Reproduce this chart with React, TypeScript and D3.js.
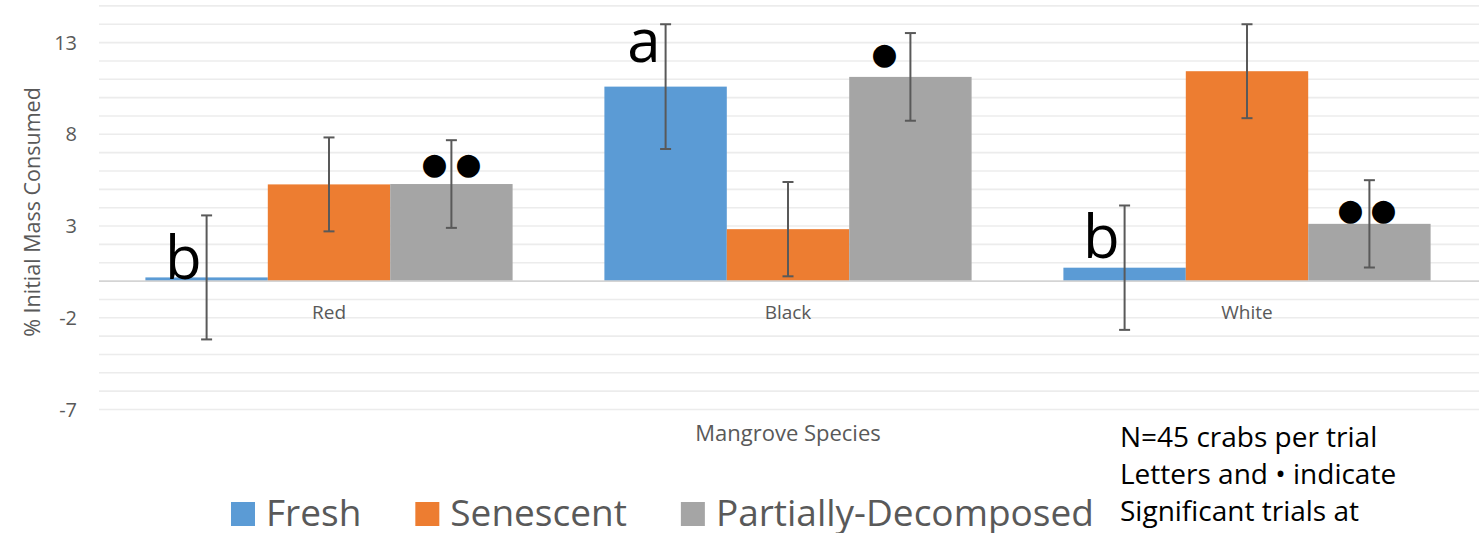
import React, { useEffect, useRef } from "react";
import * as d3 from "d3";

const categories = ["Red", "Black", "White"];
const seriesNames = ["Fresh", "Senescent", "Partially-Decomposed"];
const freshValues = [0.2, 10.6, 0.73];
const senescentValues = [5.27, 2.83, 11.44];
const partialValues = [5.29, 11.13, 3.12];
const freshErrors = [3.38, 3.4, 3.39];
const senescentErrors = [2.56, 2.57, 2.56];
const partialErrors = [2.39, 2.39, 2.38];
const yTicks = [-7, -2, 3, 8, 13];
const noteLines = ["N=45 crabs per trial", "Letters and \u2022 indicate", "Significant trials at"];
// annotation: category, series index, label
const annotations = [
  { cat: "Red", s: 0, label: "b", kind: "letter" },
  { cat: "Black", s: 0, label: "a", kind: "letter" },
  { cat: "White", s: 0, label: "b", kind: "letter" },
  { cat: "Red", s: 2, label: "\u25CF\u25CF", kind: "dots" },
  { cat: "Black", s: 2, label: "\u25CF", kind: "dots" },
  { cat: "White", s: 2, label: "\u25CF\u25CF", kind: "dots" },
];

const colors = ["#5B9BD5", "#ED7D31", "#A5A5A5"];
const W = 1479;
const H = 533;
const FONT = "'Open Sans', 'Noto Sans', sans-serif";

export default function App() {
  const ref = useRef<SVGSVGElement>(null);

  useEffect(() => {
    const svg = d3.select(ref.current);
    svg.selectAll("*").remove();

    const values = [freshValues, senescentValues, partialValues];
    const errors = [freshErrors, senescentErrors, partialErrors];

    const x0 = d3.scaleBand<string>().domain(categories).range([99.5, 1476.5]).paddingInner(0.2).paddingOuter(0.1);
    const x1 = d3.scaleBand<number>().domain([0, 1, 2]).range([0, x0.bandwidth()]);
    const y = d3.scaleLinear().domain([-7, 15]).range([409.5, 5.9]);

    // gridlines every unit
    const grid = d3.range(-7, 16, 1).filter((v) => v !== 0);
    svg.append("g").selectAll("line").data(grid).join("line")
      .attr("x1", 99).attr("x2", W).attr("y1", (d) => y(d)).attr("y2", (d) => y(d))
      .attr("stroke", "#ECECEC").attr("stroke-width", 1.6);

    // bars
    const barData: any[] = [];
    categories.forEach((c, ci) => {
      values.forEach((vals, si) => {
        barData.push({ c, si, v: vals[ci], e: errors[si][ci] });
      });
    });
    svg.append("g").selectAll("rect").data(barData).join("rect")
      .attr("x", (d) => (x0(d.c) as number) + (x1(d.si) as number))
      .attr("width", x1.bandwidth())
      .attr("y", (d) => y(Math.max(0, d.v)))
      .attr("height", (d) => Math.abs(y(d.v) - y(0)))
      .attr("fill", (d) => colors[d.si]);

    // zero axis line
    svg.append("line").attr("x1", 99).attr("x2", W).attr("y1", y(0)).attr("y2", y(0))
      .attr("stroke", "#D4D4D4").attr("stroke-width", 1.6);

    // error bars
    const eg = svg.append("g").attr("stroke", "#595959").attr("stroke-width", 2);
    barData.forEach((d) => {
      const cx = (x0(d.c) as number) + (x1(d.si) as number) + x1.bandwidth() / 2;
      const t = y(d.v + d.e);
      const b = y(d.v - d.e);
      eg.append("line").attr("x1", cx).attr("x2", cx).attr("y1", t).attr("y2", b);
      eg.append("line").attr("x1", cx - 5.5).attr("x2", cx + 5.5).attr("y1", t).attr("y2", t);
      eg.append("line").attr("x1", cx - 5.5).attr("x2", cx + 5.5).attr("y1", b).attr("y2", b);
    });

    // y tick labels
    svg.append("g").selectAll("text").data(yTicks).join("text")
      .attr("x", 77).attr("y", (d) => y(d)).attr("dy", "0.35em")
      .attr("text-anchor", "end").attr("font-family", FONT).attr("font-size", 20)
      .attr("fill", "#595959").text((d) => String(d));

    // y title
    svg.append("text")
      .attr("transform", `translate(40,${212}) rotate(-90)`)
      .attr("text-anchor", "middle").attr("font-family", FONT).attr("font-size", 21.5)
      .attr("fill", "#595959").text("% Initial Mass Consumed");

    // category labels
    svg.append("g").selectAll("text").data(categories).join("text")
      .attr("x", (d) => (x0(d) as number) + x0.bandwidth() / 2).attr("y", y(0) + 38)
      .attr("text-anchor", "middle").attr("font-family", FONT).attr("font-size", 19)
      .attr("fill", "#595959").text((d) => d);

    // x title
    svg.append("text").attr("x", (x0.range()[0] + x0.range()[1]) / 2).attr("y", 441)
      .attr("text-anchor", "middle").attr("font-family", FONT).attr("font-size", 22)
      .attr("fill", "#595959").text("Mangrove Species");

    // annotations
    const ag = svg.append("g");
    annotations.forEach((a) => {
      const ci = categories.indexOf(a.cat);
      const v = values[a.s][ci];
      const e = errors[a.s][ci];
      const cx = (x0(a.cat) as number) + (x1(a.s) as number) + x1.bandwidth() / 2;
      if (a.kind === "letter") {
        let by: number;
        if (a.cat === "Black") by = y(v + e) + 38;
        else if (a.cat === "White") by = y(v) - 10;
        else by = y(v) + 2;
        ag.append("text").attr("x", cx - 5).attr("y", by).attr("text-anchor", "end")
          .attr("font-family", FONT).attr("font-size", 60).attr("fill", "#000").text(a.label);
      } else {
        const n = a.label.length;
        const top = y(v);
        const cy = a.cat === "Black" ? y(v + e) + 20 : a.cat === "Red" ? top - 21 : top - 15;
        const centers = n === 2 ? (a.cat === "White" ? [cx - 19, cx + 14] : [cx - 17, cx + 17]) : [cx - 26];
        centers.forEach((c) => {
          ag.append("text").attr("x", c).attr("y", cy).attr("dy", "0.36em").attr("text-anchor", "middle")
            .attr("font-family", "'DejaVu Sans'").attr("font-size", 30).attr("fill", "#000").text("\u25CF");
        });
      }
    });

    // legend
    const lg = svg.append("g");
    let lx = 231;
    seriesNames.forEach((name, i) => {
      lg.append("rect").attr("x", lx).attr("y", 502).attr("width", 24).attr("height", 24).attr("fill", colors[i]);
      const t = lg.append("text").attr("x", lx + 35).attr("y", 526)
        .attr("font-family", FONT).attr("font-size", 37).attr("fill", "#595959").text(name);
      const w = (t.node() as SVGTextElement).getComputedTextLength();
      lx = lx + 35 + w + 54;
    });

    // note
    svg.append("g").selectAll("text").data(noteLines).join("text")
      .attr("x", 1120).attr("y", (_d, i) => 447 + i * 37)
      .attr("font-family", FONT).attr("font-size", 28).attr("fill", "#000").text((d) => d);
  }, []);

  return (
    <svg ref={ref} width={W} height={H} style={{ position: "absolute", left: 0, top: 0, background: "#fff" }} />
  );
}
